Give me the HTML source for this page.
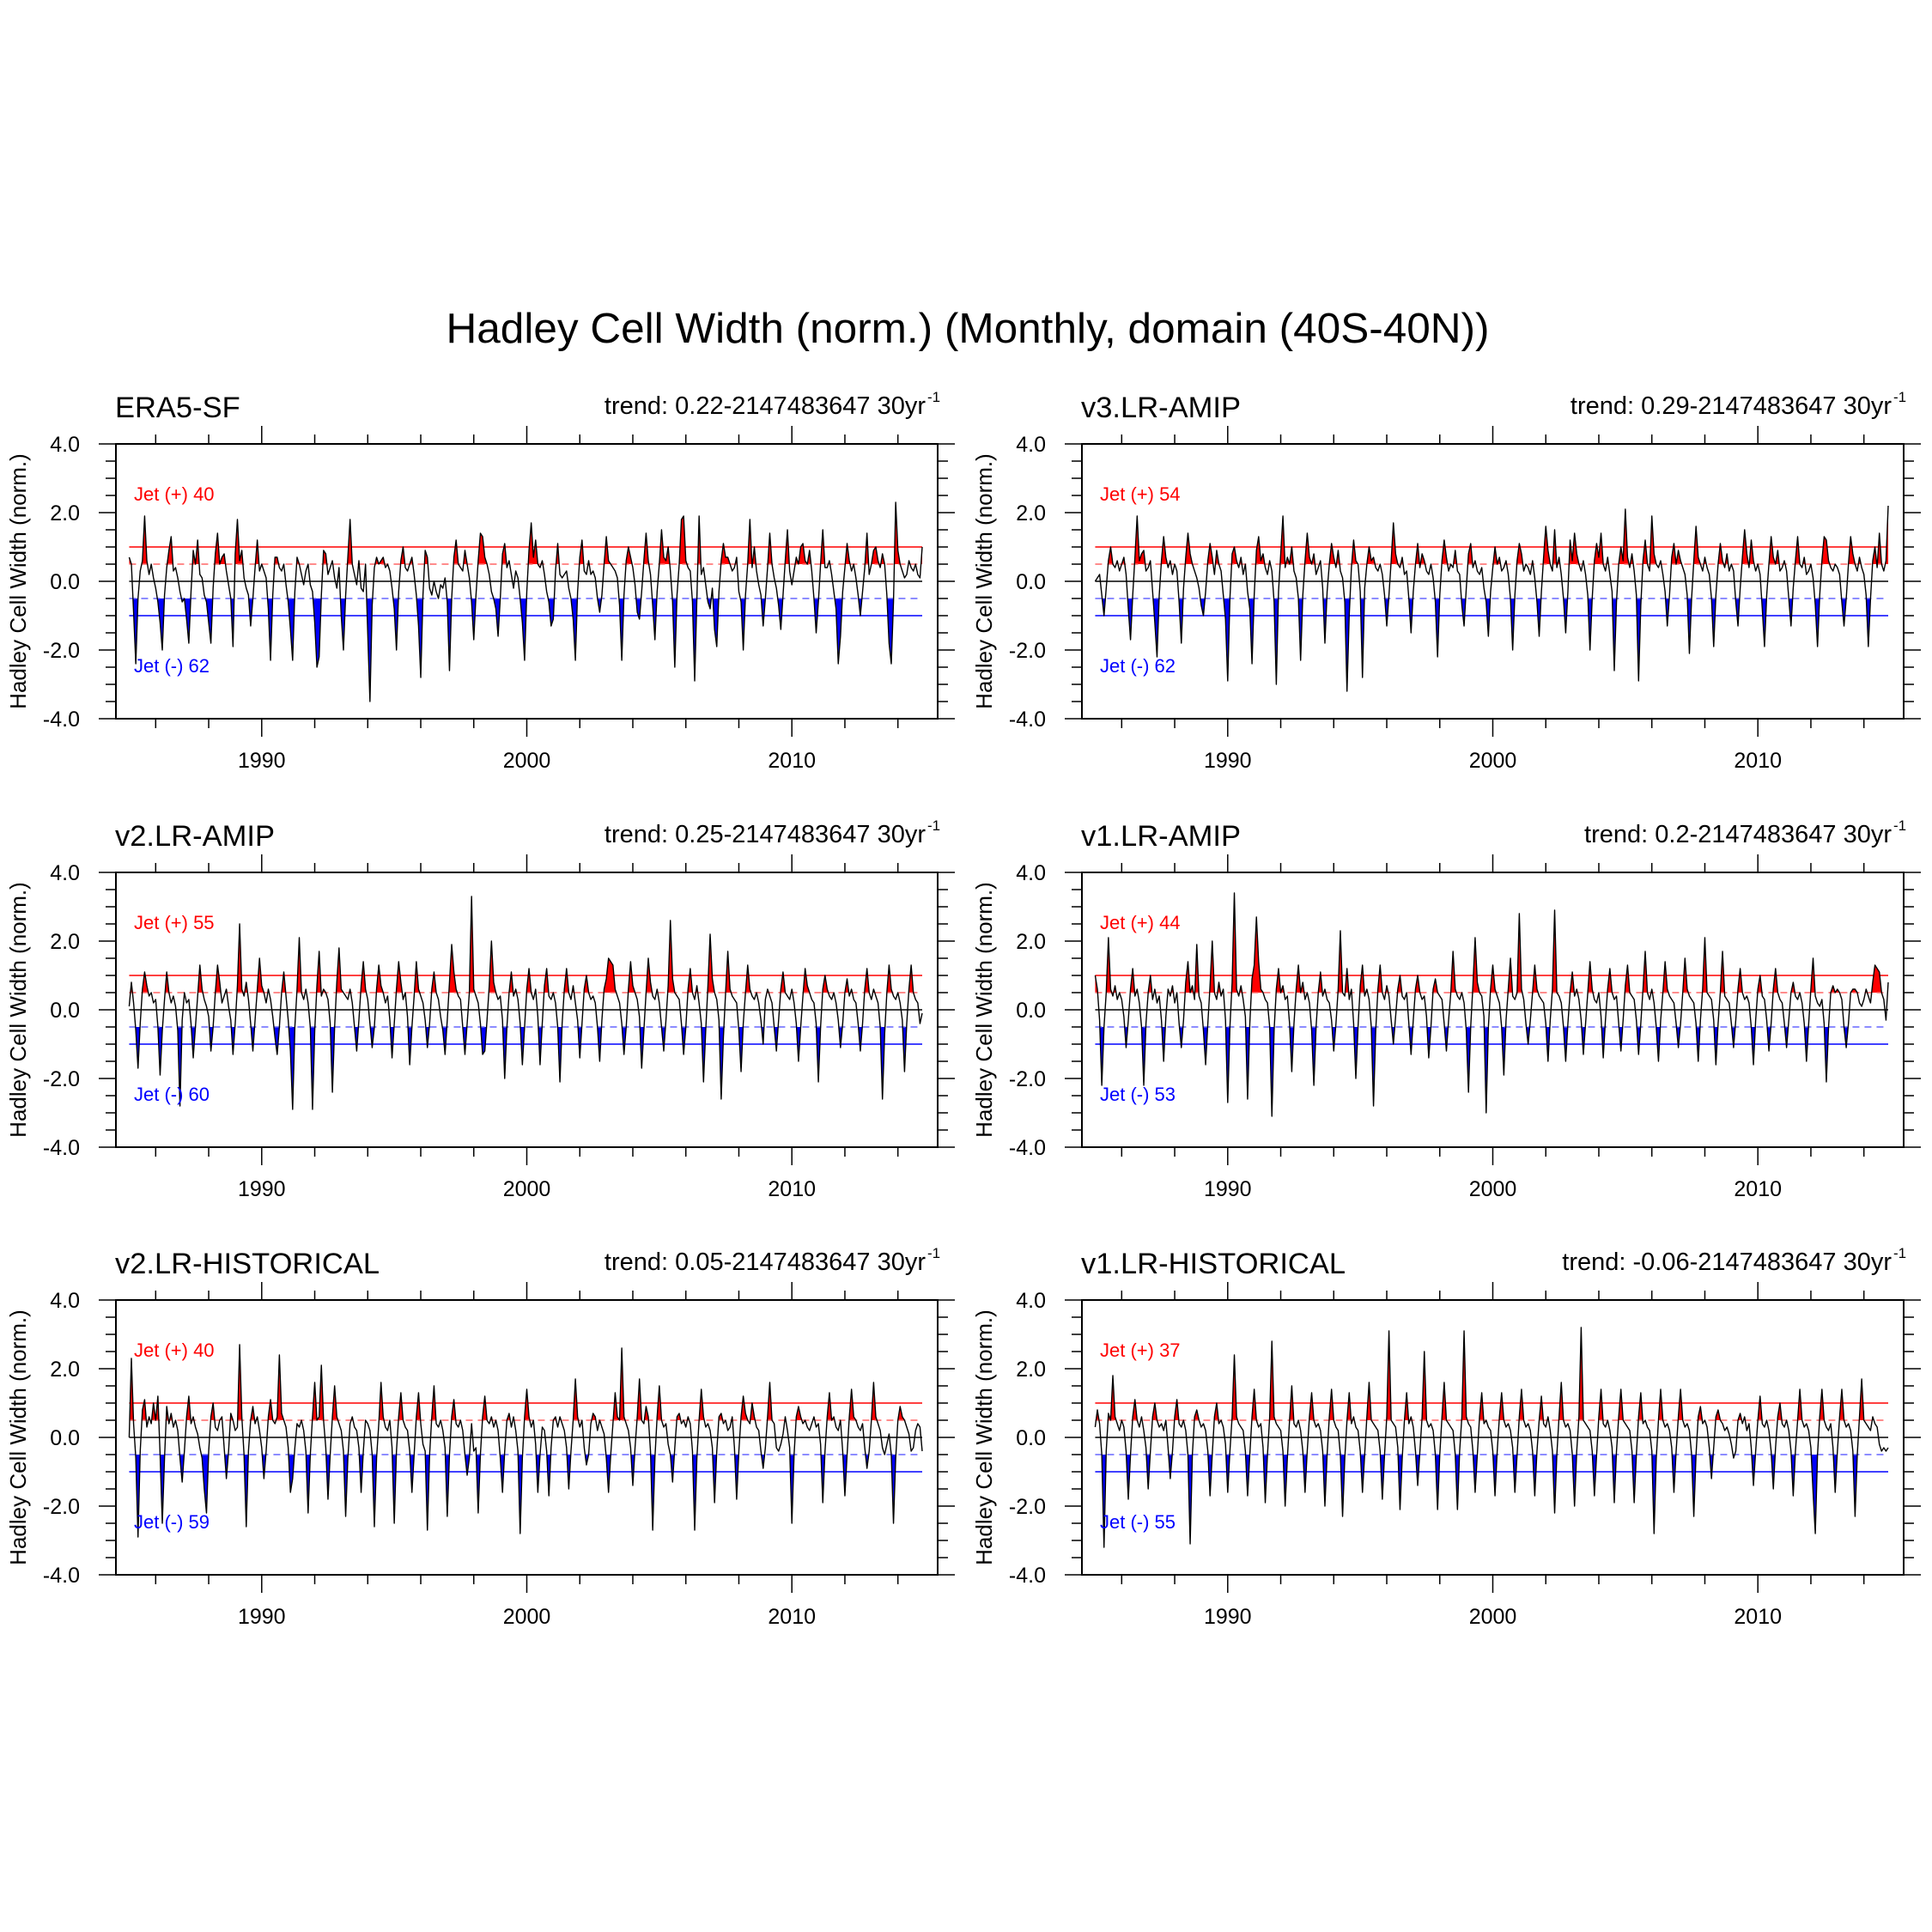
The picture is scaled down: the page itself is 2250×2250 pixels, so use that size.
<!DOCTYPE html>
<html><head><meta charset="utf-8">
<style>
html,body{margin:0;padding:0;background:#fff;}
svg{display:block;font-family:"Liberation Sans",sans-serif;}
</style></head>
<body>
<svg id="chart" width="2250" height="2250" viewBox="0 0 2250 2250" xmlns="http://www.w3.org/2000/svg">
<rect width="2250" height="2250" fill="#fff"/>
<text x="1127" y="399" font-size="49.5" text-anchor="middle">Hadley Cell Width (norm.) (Monthly, domain (40S-40N))</text>
<g id="panels"></g>
</svg>
<script>
const yTicks = [4, 2, 0, -2, -4];
const yTickLabels = ["4.0", "2.0", "0.0", "-2.0", "-4.0"];
const xTicks = [1990, 2000, 2010];
const xTickLabels = ["1990", "2000", "2010"];
const panelNames = ["ERA5-SF", "v3.LR-AMIP", "v2.LR-AMIP", "v1.LR-AMIP", "v2.LR-HISTORICAL", "v1.LR-HISTORICAL"];
const trendValues = ["0.22", "0.29", "0.25", "0.2", "0.05", "-0.06"];
const jetPlusCounts = [40, 54, 55, 44, 40, 37];
const jetMinusCounts = [62, 62, 60, 53, 59, 55];
const startYear = 1985;

const seriesEra5 = [
0.7,0.5,-0.9,-2.4,-0.5,0.3,0.6,1.9,0.6,0.2,0.5,0.1,
-0.2,-0.6,-1.2,-2.0,-0.4,0.4,0.9,1.3,0.3,0.4,0.1,-0.3,
-0.6,-0.5,-1.1,-1.8,-0.3,0.9,0.5,1.2,0.2,0.1,-0.4,-0.6,
-1.2,-1.8,-0.2,0.8,1.4,0.5,0.7,0.8,0.3,-0.1,-0.5,-1.9,
0.8,1.8,0.6,0.9,0.1,-0.2,-0.4,-1.3,-0.5,0.4,1.2,0.3,
0.5,0.3,0.1,-0.8,-2.3,-0.4,0.7,0.7,0.4,0.3,0.5,-0.1,
-0.6,-1.4,-2.3,-0.3,0.7,0.5,0.2,-0.1,0.3,0.5,-0.1,-0.3,
-1.2,-2.5,-2.2,-0.4,0.9,0.8,0.2,0.4,0.6,0.1,-0.2,0.4,
-1.0,-2.0,-0.4,0.7,1.8,0.5,0.2,-0.1,0.6,-0.2,-0.3,0.5,
-1.5,-3.5,-0.7,0.4,0.7,0.5,0.6,0.7,0.4,0.5,0.3,-0.2,
-0.8,-2.0,-0.3,0.6,1.0,0.4,0.3,0.5,0.7,0.2,-0.4,-1.3,
-2.8,-0.4,0.9,0.7,-0.2,-0.4,0.0,-0.3,-0.5,-0.1,-0.2,0.1,
-0.6,-2.6,-0.5,0.7,1.2,0.5,0.4,0.3,0.9,0.5,0.1,-0.6,
-1.7,-0.4,0.6,1.4,1.3,0.7,0.5,0.2,-0.3,-0.5,-0.8,-1.6,
-0.5,0.8,1.1,0.4,0.6,0.2,-0.2,0.3,0.1,-0.5,-1.2,-2.3,
-0.3,0.9,1.7,0.7,1.2,0.5,0.4,0.6,0.2,-0.3,-0.6,-1.3,
-1.1,0.3,1.1,0.2,0.1,0.2,0.3,-0.2,-0.5,-1.1,-2.3,-0.3,
0.7,1.2,0.3,0.2,0.6,0.2,0.3,0.1,-0.5,-0.9,-0.4,0.5,
1.3,0.6,0.5,0.4,0.3,0.1,-0.7,-2.3,-0.4,0.6,1.0,0.7,
0.4,-0.1,-0.9,-1.1,-0.3,0.6,1.4,0.6,0.2,-0.7,-1.7,-0.3,
0.5,1.5,0.7,0.6,1.0,0.3,-0.6,-2.5,-0.4,0.5,1.8,1.9,
0.6,0.4,0.3,-0.6,-2.9,-0.5,1.9,0.2,0.4,-0.1,-0.6,-0.8,
-0.2,-1.4,-1.9,-0.3,0.6,1.1,0.7,0.7,0.5,0.3,0.4,0.7,
-0.3,-0.6,-2.0,-0.4,0.5,1.8,0.4,1.0,0.3,-0.1,-0.4,-1.3,
-0.5,0.4,1.4,0.5,0.1,-0.2,-0.7,-1.4,-0.4,0.6,1.5,0.3,
-0.1,0.3,0.7,0.5,1.0,1.1,0.6,0.5,0.9,0.3,-0.5,-1.5,
-0.6,0.5,1.5,0.4,0.4,0.6,0.2,-0.3,-0.8,-2.4,-1.6,-0.3,
0.4,1.1,0.6,0.3,0.5,0.1,-0.4,-1.0,-0.3,0.4,1.4,0.2,
0.5,0.9,1.0,0.6,0.4,0.8,0.5,-0.4,-1.8,-2.4,-0.6,2.3,
0.9,0.5,0.3,0.1,0.2,0.6,0.4,0.3,0.5,0.2,0.1,1.0
];
const seriesV3Amip = [
0.0,0.1,0.2,-0.4,-1.0,-0.2,0.6,1.0,0.5,0.4,0.6,0.3,
0.5,0.7,0.2,-0.8,-1.7,-0.4,0.7,1.9,0.6,0.8,0.9,0.3,
0.4,0.6,-0.3,-1.2,-2.2,-0.4,0.6,1.3,0.7,0.4,0.6,0.2,
0.5,0.3,-0.6,-1.8,-0.2,0.7,1.4,0.8,0.5,0.3,0.1,-0.2,
-0.7,-1.0,-0.3,0.6,1.1,0.7,0.2,0.9,0.5,0.3,-0.4,-1.1,
-2.9,-0.5,0.8,1.0,0.6,0.4,0.7,0.2,0.5,-0.3,-0.8,-2.4,
-0.4,0.9,1.3,0.6,0.8,0.4,0.2,0.6,0.3,-0.6,-3.0,-0.3,
0.8,1.9,0.4,0.7,0.5,1.0,0.3,0.1,-0.5,-2.3,-0.4,0.6,
1.4,0.7,0.5,0.8,0.2,0.4,0.6,-0.2,-1.8,-0.3,0.5,1.1,
0.7,0.4,0.9,0.3,0.1,-0.6,-3.2,-1.0,0.4,1.2,0.6,0.5,
-0.3,-2.8,-0.2,0.5,1.0,0.6,0.7,0.4,0.3,0.5,0.2,-0.4,
-1.3,-0.4,0.6,1.7,0.8,0.5,0.4,0.7,0.2,0.3,-0.5,-1.5,
-0.3,0.5,1.1,0.4,0.8,0.6,0.3,0.2,0.5,0.1,-0.6,-2.2,
-0.4,0.6,1.2,0.7,0.3,0.5,0.4,0.9,0.3,0.2,-0.7,-1.3,
-0.2,0.8,1.1,0.4,0.6,0.3,0.2,0.4,-0.2,-0.6,-1.6,-0.3,
0.4,1.0,0.5,0.7,0.3,0.4,0.6,0.2,-0.5,-2.0,-0.4,0.6,
1.1,0.8,0.3,0.5,0.4,0.2,0.6,0.1,-0.6,-1.6,-0.3,0.7,
1.6,0.9,0.5,0.3,1.5,0.4,0.7,0.2,-0.5,-1.5,-0.3,1.2,
0.6,1.4,0.8,0.5,0.3,0.6,0.2,-0.4,-2.0,-0.5,0.6,1.1,
0.7,1.4,0.5,0.3,0.7,0.2,-0.3,-2.6,-0.6,0.5,1.0,0.6,
2.1,0.7,0.4,0.8,0.3,-0.4,-2.9,-0.7,0.6,1.2,0.5,0.3,
1.9,0.8,0.5,0.4,0.6,0.2,-0.3,-1.3,-0.4,0.7,1.1,0.5,
0.9,0.6,0.4,0.2,-0.4,-2.1,-0.5,0.6,1.6,0.7,0.5,0.3,
0.7,0.4,0.2,-0.5,-1.9,-0.4,0.5,1.1,0.6,0.4,0.8,0.3,
0.5,0.3,-0.6,-1.3,-0.2,0.7,1.5,0.8,0.4,1.2,0.6,0.3,
0.5,0.2,-0.8,-1.9,-0.4,0.5,1.3,0.7,0.5,0.9,0.3,0.4,
0.6,0.3,-0.5,-1.3,-0.2,0.6,1.3,0.5,0.4,0.7,0.2,0.3,
0.5,0.1,-0.7,-1.9,-0.4,0.6,1.3,1.2,0.6,0.4,0.3,0.5,
0.4,0.2,-0.6,-1.3,-0.5,0.5,1.3,0.8,0.5,0.3,0.7,0.4,
0.2,-0.4,-1.9,-0.5,0.6,1.0,0.4,1.4,0.5,0.3,0.6,2.2
];
const seriesV2Amip = [
0.1,0.8,0.2,-0.6,-1.7,-0.4,0.6,1.1,0.7,0.4,0.5,0.2,
0.3,-0.5,-1.9,-0.6,0.3,1.1,0.5,0.2,0.4,0.1,-0.6,-2.8,
-0.3,0.5,0.2,0.3,-0.4,-1.4,-0.5,0.4,1.3,0.6,0.3,0.1,
-0.2,-1.2,-0.5,0.5,1.3,0.8,0.2,0.4,0.6,0.1,-0.3,-1.3,
-0.4,0.7,2.5,0.6,0.4,0.8,0.3,-0.4,-1.2,-0.3,0.6,1.5,
0.7,0.5,0.2,0.6,0.3,-0.2,-0.8,-1.3,-0.5,0.5,1.1,0.4,
-0.3,-1.2,-2.9,-0.5,0.6,2.1,0.5,0.3,0.6,0.2,-0.5,-2.9,
-0.6,0.7,1.7,0.4,0.6,0.5,0.3,-0.4,-2.4,-0.5,0.8,1.8,
0.6,0.5,0.4,0.3,0.6,0.2,-0.5,-1.2,-0.3,0.7,1.4,0.6,
0.3,-0.4,-1.1,-0.5,0.6,1.3,0.7,0.5,0.2,0.4,-0.3,-1.4,
-0.4,0.6,1.4,0.8,0.3,0.5,-0.2,-1.6,-0.5,0.4,1.4,0.6,
0.4,0.2,-0.3,-1.1,-0.4,0.6,1.1,0.5,0.3,-0.2,-0.6,-1.3,
-0.3,0.8,1.9,1.1,0.6,0.4,0.3,-0.5,-1.3,-0.4,0.5,3.3,
0.6,0.4,0.2,-0.4,-1.3,-1.2,-0.3,0.7,2.0,0.8,0.5,0.3,
0.4,-0.3,-2.0,-0.5,0.5,1.1,0.4,0.6,0.3,-0.4,-1.6,-0.5,
0.6,1.2,0.5,0.3,0.6,-0.2,-1.6,-0.4,0.7,1.2,0.4,0.3,
0.5,0.2,-0.5,-2.1,-0.4,0.6,1.2,0.5,0.3,0.7,0.2,-0.3,
-1.4,-0.4,0.6,1.0,0.5,0.3,0.4,0.2,-0.5,-1.5,-0.3,0.6,
0.9,1.5,1.4,1.3,0.6,0.4,0.2,-0.4,-1.3,-0.5,0.6,1.4,
0.7,0.5,0.3,-0.2,-1.7,-0.6,0.5,1.5,0.8,0.4,0.3,0.6,
0.2,-0.5,-1.2,-0.3,0.7,2.6,0.9,0.5,0.4,0.3,-0.4,-1.3,
-0.5,0.6,1.2,0.5,0.3,0.7,0.2,-0.4,-2.1,-0.6,0.7,2.2,
0.9,0.5,0.3,-0.3,-2.6,-0.8,0.5,1.7,0.6,0.4,0.3,0.2,
-0.6,-1.8,-0.4,0.5,1.3,0.6,0.4,0.3,0.5,0.2,-0.3,-1.0,
0.3,0.6,0.4,0.2,-0.5,-1.2,-0.3,0.6,1.1,0.5,0.4,0.3,
0.6,0.2,-0.4,-1.5,-0.5,0.4,1.2,0.7,0.5,0.3,0.2,-0.4,
-2.1,-0.5,0.6,1.0,0.6,0.4,0.3,0.5,0.2,-0.3,-1.1,-0.4,
0.5,0.9,0.4,0.6,0.3,0.2,-0.4,-1.2,-0.4,0.6,1.2,0.5,
0.3,0.6,0.4,0.2,-0.5,-2.6,-0.7,0.5,1.3,0.6,0.4,0.3,
0.5,0.2,-0.3,-1.8,-0.4,0.6,1.3,0.5,0.3,0.2,-0.4,-0.1
];
const seriesV1Amip = [
1.0,0.6,-0.3,-2.2,-0.5,0.5,2.1,0.6,0.4,0.7,0.3,0.5,
0.3,-0.2,-1.1,-0.3,0.6,1.2,0.4,0.6,0.2,-0.5,-2.2,-0.4,
0.5,1.0,0.3,0.6,0.2,0.4,-0.3,-1.5,-0.2,0.6,0.4,0.7,
0.2,0.5,-0.4,-1.1,-0.3,0.8,1.4,0.5,0.7,0.3,1.9,0.4,
0.2,-0.6,-1.6,-0.4,0.7,2.0,0.5,0.3,0.8,0.4,0.6,-0.3,
-2.7,-0.5,0.8,3.4,0.6,0.4,0.7,0.3,-0.2,-2.6,-0.4,0.9,
1.3,2.7,1.4,0.6,0.5,0.3,0.2,-0.5,-3.1,-0.6,0.6,1.2,
0.5,0.7,0.3,0.4,-0.4,-1.8,-0.4,0.6,1.3,0.5,0.8,0.3,
0.5,0.2,-0.6,-2.2,-0.5,0.5,1.1,0.4,0.6,0.3,0.2,-0.3,
-1.2,-0.4,0.6,2.3,0.5,0.4,1.2,0.3,0.6,-0.4,-2.0,-0.5,
0.7,1.3,0.4,0.6,0.3,-0.5,-2.8,-0.6,0.6,1.3,0.5,0.3,
0.7,0.4,-0.3,-1.0,-0.2,0.6,1.0,0.4,0.3,0.5,-0.4,-1.3,
-0.3,0.6,1.0,0.5,0.3,0.4,-0.2,-1.4,-0.5,0.6,0.9,0.5,
0.4,0.3,-0.4,-1.2,-0.3,0.5,1.7,0.6,0.4,0.3,0.5,0.2,
-0.6,-2.4,-0.5,0.7,2.1,0.8,0.5,0.4,-0.2,-3.0,-0.5,0.6,
1.3,0.6,0.4,0.2,-0.5,-1.9,-0.3,0.6,1.5,0.4,0.3,0.5,
2.8,0.6,0.3,-0.4,-1.0,-0.3,0.5,1.3,0.6,0.4,0.3,0.2,
-0.4,-1.5,-0.3,0.6,2.9,0.5,0.4,0.2,-0.5,-1.5,-0.4,0.5,
1.1,0.4,0.6,0.3,-0.3,-1.3,-0.4,0.5,1.4,0.6,0.3,0.2,
0.5,-0.2,-1.4,-0.3,0.6,1.2,0.5,0.3,0.4,-0.4,-1.2,-0.3,
0.7,1.3,0.5,0.4,0.3,-0.3,-1.3,-0.4,0.6,1.7,0.5,0.3,
0.6,0.2,-0.5,-1.5,-0.3,0.5,1.4,0.6,0.4,0.3,0.2,-0.4,
-1.1,-0.4,0.5,1.5,0.6,0.4,0.3,0.2,-0.4,-1.5,-0.3,0.6,
2.1,0.5,0.4,0.3,-0.3,-1.6,-0.4,0.5,1.7,0.4,0.3,0.2,
-0.4,-1.1,-0.3,0.6,1.2,0.5,0.3,0.4,0.2,-0.5,-1.6,-0.3,
0.6,1.0,0.4,0.3,-0.3,-1.2,-0.4,0.6,1.2,0.5,0.3,0.2,
-0.4,-1.1,-0.3,0.5,0.8,0.4,0.3,0.5,0.2,-0.4,-1.5,-0.4,
0.6,1.5,0.4,0.2,0.1,0.3,-0.4,-2.1,-0.5,0.5,0.7,0.5,
0.6,0.5,0.3,-0.5,-1.1,-0.4,0.5,0.6,0.6,0.5,0.2,0.1,
0.3,0.6,0.4,0.2,0.8,1.3,1.2,1.1,0.5,0.3,-0.3,0.8
];
const seriesV2Hist = [
0.0,2.3,0.4,-0.6,-2.9,-0.4,0.8,1.1,0.3,0.6,0.4,1.0,
0.5,1.2,-0.5,-2.5,-0.6,0.9,0.4,0.7,0.3,0.5,0.2,-0.6,
-1.3,-0.4,0.6,1.2,0.4,0.6,0.3,0.1,-0.3,-0.6,-1.5,-2.2,
-0.4,0.6,1.0,0.3,0.2,0.5,0.6,-0.3,-1.2,-0.4,0.7,0.5,
0.2,0.3,2.7,0.6,-0.5,-2.6,-0.4,0.5,0.9,0.4,0.6,0.2,
-0.3,-1.2,-0.4,0.6,1.1,0.5,0.4,0.6,2.4,0.7,0.5,0.3,
-0.3,-1.6,-1.2,-0.3,0.4,0.3,0.5,0.2,-0.4,-2.2,-0.5,0.6,
1.6,0.5,0.6,2.1,0.5,-0.3,-1.8,-0.5,0.6,1.5,0.6,0.4,
0.2,-0.4,-2.3,-0.6,0.4,0.6,0.3,0.2,-0.3,-1.6,-0.4,0.5,
0.4,0.2,-0.5,-2.6,-0.6,0.4,1.6,0.6,0.3,0.2,0.5,-0.3,
-2.5,-0.4,0.6,1.3,0.5,0.3,0.2,-0.4,-1.6,-0.5,0.6,1.3,
0.4,-0.2,-0.4,-2.7,-0.5,0.6,1.5,0.4,0.3,0.5,0.2,-0.3,
-2.3,-0.5,0.6,1.1,0.4,0.3,0.5,0.2,-0.5,-1.1,-0.6,0.4,
-0.4,-0.3,-2.2,-0.5,0.6,1.2,0.5,0.4,0.6,0.3,0.5,0.2,
-0.6,-1.6,-0.4,0.5,0.7,0.3,0.6,0.2,-0.4,-2.8,-0.6,0.6,
1.4,0.6,0.3,0.5,-0.2,-1.6,-0.5,0.3,0.2,-0.4,-1.7,-0.3,
0.5,0.6,0.3,0.6,0.4,0.2,-0.3,-1.5,-0.4,0.5,1.7,0.6,
0.3,0.5,-0.3,-0.8,-0.5,0.4,0.7,0.6,0.2,0.5,0.3,0.1,
-0.6,-1.6,-0.5,0.4,1.3,0.6,0.5,2.6,0.6,0.4,0.2,-0.3,
-1.4,-0.3,0.6,1.7,0.5,0.4,0.9,0.6,-0.4,-2.7,-0.6,0.6,
1.5,0.5,0.3,0.4,-0.2,-0.5,-1.3,-0.3,0.6,0.7,0.4,0.5,
0.3,0.6,0.4,-0.4,-2.7,-0.6,0.5,1.4,0.6,0.3,0.4,0.2,
-0.3,-1.9,-0.4,0.6,0.7,0.4,0.5,0.2,0.3,0.6,-0.3,-1.8,
-0.4,0.6,1.2,0.7,0.5,0.4,1.0,0.6,0.3,0.2,-0.4,-0.9,
-0.3,0.6,1.6,0.5,0.4,-0.3,-0.4,-0.2,0.1,0.6,0.2,-0.3,
-2.5,-0.5,0.6,0.9,0.6,0.4,0.5,0.3,0.2,0.4,0.6,0.3,
0.4,-0.2,-1.9,-0.4,0.6,1.3,0.5,0.6,0.3,0.2,0.5,-0.4,
-1.7,-0.5,0.6,1.4,0.6,0.5,0.3,0.2,0.4,-0.3,-0.9,-0.4,
0.5,1.6,0.6,0.4,0.2,-0.3,-0.5,-0.2,0.1,-0.5,-2.5,-0.6,
0.5,0.9,0.6,0.5,0.3,0.1,-0.4,-0.3,0.2,0.4,0.3,-0.4
];
const seriesV1Hist = [
0.3,0.8,0.4,-0.5,-3.2,-0.4,0.7,0.5,1.8,0.6,0.4,0.2,
0.5,0.3,-0.4,-1.8,-0.5,0.6,1.1,0.5,0.3,0.6,0.2,-0.3,
-1.5,-0.4,0.6,1.0,0.5,0.3,0.4,0.2,0.5,-0.3,-1.2,-0.4,
0.6,1.1,0.4,0.3,0.5,0.2,-0.5,-3.1,-0.5,0.6,0.8,0.5,
0.3,0.4,0.2,-0.4,-1.7,-0.5,0.6,1.0,0.4,0.5,0.3,-0.2,
-1.6,-0.4,0.6,2.4,0.6,0.4,0.3,0.2,-0.4,-1.7,-0.5,0.6,
1.4,0.5,0.3,0.4,-0.3,-1.9,-0.5,0.6,2.8,0.6,0.4,0.3,
0.2,-0.4,-2.0,-0.6,0.5,1.5,0.4,0.3,0.5,0.2,-0.4,-1.6,
-0.4,0.6,1.3,0.5,0.3,0.4,0.2,-0.4,-2.0,-0.5,0.6,1.4,
0.5,0.3,0.2,-0.5,-2.3,-0.6,0.5,1.3,0.4,0.6,0.3,0.2,
-0.4,-1.6,-0.5,0.6,1.6,0.5,0.4,0.3,0.2,-0.4,-1.8,-0.5,
0.6,3.1,0.5,0.4,0.3,-0.3,-2.1,-0.6,0.5,1.3,0.4,0.6,
0.3,-0.4,-1.4,-0.4,0.6,2.5,0.5,0.3,0.4,0.2,-0.5,-2.1,
-0.5,0.6,1.6,0.5,0.4,0.3,0.2,-0.5,-2.1,-0.4,0.6,3.1,
0.6,0.4,0.3,-0.4,-1.6,-0.5,0.6,1.3,0.4,0.5,0.3,0.2,
-0.4,-1.7,-0.4,0.6,1.3,0.5,0.3,0.4,0.2,-0.3,-1.6,-0.5,
0.6,1.4,0.5,0.3,0.4,0.2,-0.4,-1.7,-0.4,0.5,1.2,0.4,
0.3,0.6,0.2,-0.4,-2.2,-0.5,0.6,1.6,0.5,0.3,0.4,0.2,
-0.5,-2.0,-0.4,0.6,3.2,0.5,0.4,0.3,0.2,-0.4,-1.7,-0.5,
0.6,1.4,0.4,0.3,0.5,0.2,-0.3,-1.9,-0.4,0.6,1.4,0.5,
0.4,0.3,0.2,-0.4,-1.9,-0.5,0.6,1.3,0.4,0.5,0.3,0.2,
-0.4,-2.8,-0.6,0.5,1.4,0.5,0.3,0.4,0.2,-0.3,-1.6,-0.4,
0.6,1.4,0.5,0.3,0.4,0.2,-0.5,-2.3,-0.5,0.6,0.9,0.4,
0.5,0.3,-0.3,-1.2,-0.3,0.6,0.8,0.5,0.4,0.2,0.3,0.1,
-0.2,-0.6,-0.4,0.5,0.7,0.4,0.6,0.2,0.4,-0.3,-1.4,-0.4,
0.5,1.2,0.4,0.3,0.5,0.2,-0.4,-1.5,-0.3,0.6,1.0,0.4,
0.3,0.5,0.2,-0.4,-1.7,-0.4,0.5,1.4,0.5,0.3,0.4,0.2,
-0.3,-1.6,-2.8,-0.5,0.6,1.4,0.5,0.3,0.2,0.4,-0.3,-1.6,
-0.4,0.6,1.4,0.5,0.3,0.4,0.2,-0.4,-2.3,-0.5,0.6,1.7,
0.5,0.4,0.3,0.2,0.6,0.4,0.3,-0.2,-0.4,-0.3,-0.4,-0.3
];
const allSeries = [seriesEra5, seriesV3Amip, seriesV2Amip, seriesV1Amip, seriesV2Hist, seriesV1Hist];

const NS = "http://www.w3.org/2000/svg";
const panelsG = document.getElementById("panels");
const plotW = 957, plotH = 320;
const xMin = 1984.5, xMax = 2015.5, yMin = -4, yMax = 4;
const colLeft = [135, 1260];
const rowTop = [517, 1016, 1514];

function mk(tag, attrs, parent) {
  const e = document.createElementNS(NS, tag);
  for (const k in attrs) e.setAttribute(k, attrs[k]);
  parent.appendChild(e);
  return e;
}

allSeries.forEach((vals, p) => {
  const L = colLeft[p % 2], T = rowTop[Math.floor(p / 2)];
  const sx = t => L + (t - xMin) / (xMax - xMin) * plotW;
  const sy = v => T + (yMax - v) / (yMax - yMin) * plotH;
  const g = mk("g", {}, panelsG);
  
  

  const cidUp = "cu" + p, cidDn = "cd" + p;
  const cu = mk("clipPath", { id: cidUp }, g);
  mk("rect", { x: L, y: T, width: plotW, height: sy(0.5) - T }, cu);
  const cd = mk("clipPath", { id: cidDn }, g);
  mk("rect", { x: L, y: sy(-0.5), width: plotW, height: T + plotH - sy(-0.5) }, cd);

  const pts = vals.map((v, i) => [sx(startYear + i / 12), sy(v)]);
  const lineD = pts.map((q, i) => (i ? "L" : "M") + q[0].toFixed(2) + "," + q[1].toFixed(2)).join("");
  const x0 = pts[0][0].toFixed(2), x1 = pts[pts.length - 1][0].toFixed(2);

  const fillUp = mk("path", { d: "M" + x0 + "," + sy(0.5) + lineD.replace(/^M/, "L") + "L" + x1 + "," + sy(0.5) + "Z", fill: "#ff0000", "clip-path": "url(#" + cidUp + ")" }, g);
  
  
  const fillDn = mk("path", { d: "M" + x0 + "," + sy(-0.5) + lineD.replace(/^M/, "L") + "L" + x1 + "," + sy(-0.5) + "Z", fill: "#0000ff", "clip-path": "url(#" + cidDn + ")" }, g);
  
  

  const refs = [[1, "#ff0000", ""], [0.5, "#ff6666", "8,6"], [0, "#000", ""], [-0.5, "#6666ff", "8,6"], [-1, "#0000ff", ""]];
  refs.forEach(r => {
    const ln = mk("line", { x1: x0, x2: x1, y1: sy(r[0]), y2: sy(r[0]), stroke: r[1], "stroke-width": 1.5, "stroke-dasharray": r[2] }, g);
    
    
  });

  const line = mk("path", { d: lineD, fill: "none", stroke: "#000", "stroke-width": 1.4, "stroke-linejoin": "round" }, g);
  
  

  const frame = mk("rect", { x: L, y: T, width: plotW, height: plotH, fill: "none", stroke: "#000", "stroke-width": 2 }, g);
  
  

  for (let yr = 1986; yr <= 2014; yr += 2) {
    const major = xTicks.indexOf(yr) >= 0;
    const len = major ? 21 : 11;
    const X = sx(yr);
    mk("line", { x1: X, x2: X, y1: T, y2: T - len, stroke: "#000", "stroke-width": 1.5 }, g);
    mk("line", { x1: X, x2: X, y1: T + plotH, y2: T + plotH + len, stroke: "#000", "stroke-width": 1.5 }, g);
  }
  xTicks.forEach((yr, i) => {
    const t = mk("text", { x: sx(yr), y: T + plotH + 57, "font-size": 25, "text-anchor": "middle" }, g);
    t.textContent = xTickLabels[i];
    
    
  });
  for (let v = -4; v <= 4.001; v += 0.5) {
    const major = yTicks.indexOf(Math.round(v * 10) / 10) >= 0;
    const len = major ? 20 : 12;
    const Y = sy(v);
    mk("line", { x1: L, x2: L - len, y1: Y, y2: Y, stroke: "#000", "stroke-width": 1.5 }, g);
    mk("line", { x1: L + plotW, x2: L + plotW + len, y1: Y, y2: Y, stroke: "#000", "stroke-width": 1.5 }, g);
  }
  yTicks.forEach((v, i) => {
    const t = mk("text", { x: L - 42, y: sy(v) + 9, "font-size": 25, "text-anchor": "end" }, g);
    t.textContent = yTickLabels[i];
    
    
  });
  const yt = mk("text", { x: 0, y: 0, "font-size": 26, "text-anchor": "middle", transform: "translate(" + (L - 105) + "," + (T + plotH / 2) + ") rotate(-90)" }, g);
  yt.textContent = "Hadley Cell Width (norm.)";
  
  

  const pt = mk("text", { x: L - 1, y: T - 31, "font-size": 34.5 }, g);
  pt.textContent = panelNames[p];
  
  

  const tr = mk("text", { x: L + plotW - 14, y: T - 35, "font-size": 29, "text-anchor": "end" }, g);
  tr.textContent = "trend: " + trendValues[p] + "-2147483647 30yr";
  
  
  const sup = mk("text", { x: L + plotW - 12, y: T - 49, "font-size": 17 }, g);
  sup.textContent = "-1";
  
  

  const jp = mk("text", { x: L + 21, y: T + 66, "font-size": 22, fill: "#ff0000" }, g);
  jp.textContent = "Jet (+) " + jetPlusCounts[p];
  
  
  const jm = mk("text", { x: L + 21, y: T + 266, "font-size": 22, fill: "#0000ff" }, g);
  jm.textContent = "Jet (-) " + jetMinusCounts[p];
  
  
});
</script>
</body></html>
